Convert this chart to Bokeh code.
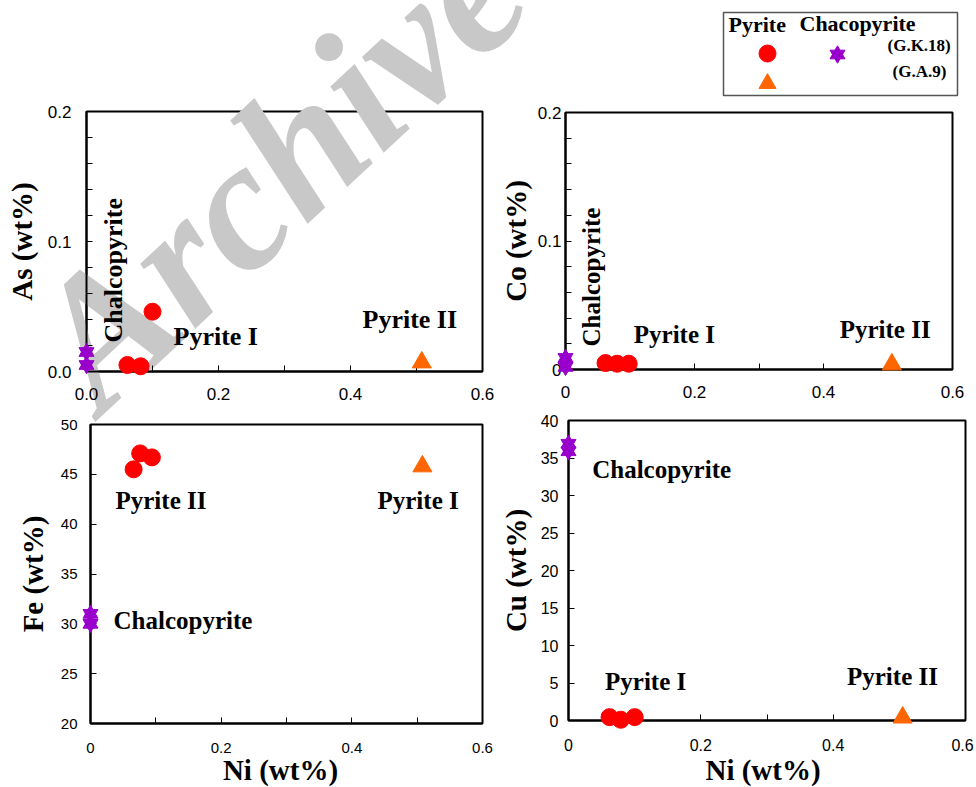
import math
from bokeh.plotting import figure
from bokeh.models import Range1d, FixedTicker
from bokeh.core.properties import value
from bokeh.layouts import row, column
from bokeh.embed import file_html
from bokeh.resources import INLINE

# ---------------- data ----------------
# G.K.18 = pyrite (red circles), G.A.9 = pyrite (orange triangle), chalcopyrite = purple stars
ni_gk18_as = [0.062, 0.082, 0.100]
as_gk18 = [0.005, 0.004, 0.046]
ni_ga9_as = [0.508]
as_ga9 = [0.007]
ni_cpy_as = [0.0, 0.0]
as_cpy = [0.015, 0.005]

ni_gk18_co = [0.062, 0.080, 0.098]
co_gk18 = [0.005, 0.0045, 0.0045]
ni_ga9_co = [0.506]
co_ga9 = [0.004]
ni_cpy_co = [0.0, 0.0]
co_cpy = [0.009, 0.002]

ni_gk18_fe = [0.066, 0.076, 0.094]
fe_gk18 = [45.5, 47.1, 46.7]
ni_ga9_fe = [0.508]
fe_ga9 = [45.8]
ni_cpy_fe = [0.0, 0.0]
fe_cpy = [31.0, 30.0]

ni_gk18_cu = [0.062, 0.079, 0.100]
cu_gk18 = [0.45, 0.1, 0.45]
ni_ga9_cu = [0.505]
cu_ga9 = [0.4]
ni_cpy_cu = [0.0, 0.0]
cu_cpy = [36.9, 35.9]

x_ticks = [0, 0.2, 0.4, 0.6]
x_minor = [0.1, 0.3, 0.5]
x_labels_as = ["0.0", "0.2", "0.4", "0.6"]
x_labels = ["0", "0.2", "0.4", "0.6"]
small_ticks = [0, 0.1, 0.2]
small_minor = [0.02, 0.04, 0.06, 0.08, 0.12, 0.14, 0.16, 0.18]
as_labels = ["0.0", "0.1", "0.2"]
co_labels = ["0", "0.1", "0.2"]
fe_ticks = [20, 25, 30, 35, 40, 45, 50]
cu_ticks = [0, 5, 10, 15, 20, 25, 30, 35, 40]

RED, ORANGE, PURPLE = "#ff0000", "#ff6600", "#9900cc"
GREY = "#c8c8c8"
SERIF = "Liberation Serif"
SANS = "Liberation Sans"

# figure geometry in page pixels (origin, size, frame edges)
G1 = dict(ox=0, oy=0, w=496, h=408, left=86, right=482, top=111, bottom=371)
GL = dict(ox=496, oy=0, w=480, h=100, left=723, right=957, top=12, bottom=95)
G2 = dict(ox=496, oy=100, w=480, h=308, left=561, right=952, top=112, bottom=369)
G3 = dict(ox=0, oy=408, w=496, h=378, left=90, right=482, top=424, bottom=723)
G4 = dict(ox=496, oy=408, w=480, h=378, left=563, right=965, top=420, bottom=720)

META = {}


def make_fig(g, xr, yr, axes=True):
    kw = {}
    if not axes:
        kw = dict(x_axis_location=None, y_axis_location=None)
    p = figure(width=g["w"], height=g["h"], x_range=Range1d(*xr), y_range=Range1d(*yr),
               output_backend="svg", toolbar_location=None, frame_align=False,
               min_border_left=g["left"] - g["ox"],
               min_border_right=g["ox"] + g["w"] - g["right"],
               min_border_top=g["top"] - g["oy"],
               min_border_bottom=g["oy"] + g["h"] - g["bottom"], **kw)
    p.outline_line_color = "black"
    p.outline_line_width = 2
    p.xgrid.visible = False
    p.ygrid.visible = False
    META[p.id] = (g, xr, yr)
    return p


def pix(p, X, Y):
    g, xr, yr = META[p.id]
    x = xr[0] + (X - g["left"]) / (g["right"] - g["left"]) * (xr[1] - xr[0])
    y = yr[0] + (g["bottom"] - Y) / (g["bottom"] - g["top"]) * (yr[1] - yr[0])
    return x, y


def style(p, xlabels, yticks, yminor, ylabels, tsize, xstand, ystand, ytitle, ytstand):
    xa, ya = p.xaxis[0], p.yaxis[0]
    xa.ticker = FixedTicker(ticks=x_ticks, minor_ticks=x_minor)
    xa.major_label_overrides = dict(zip(x_ticks, xlabels))
    ya.ticker = FixedTicker(ticks=yticks, minor_ticks=yminor)
    ya.major_label_overrides = dict(zip(yticks, ylabels))
    for ax in (xa, ya):
        ax.axis_line_color = "black"
        ax.axis_line_width = 2
        ax.major_tick_in = 6
        ax.major_tick_out = 0
        ax.minor_tick_in = 6
        ax.minor_tick_out = 0
        ax.major_tick_line_color = "black"
        ax.minor_tick_line_color = "black"
        ax.major_label_text_font = SANS
        ax.major_label_text_font_size = f"{tsize}px"
        ax.major_label_text_color = "black"
    xa.major_label_standoff = xstand
    ya.major_label_standoff = ystand
    ya.axis_label = ytitle
    ya.axis_label_text_font = SERIF
    ya.axis_label_text_font_style = "bold"
    ya.axis_label_text_font_size = "29px"
    ya.axis_label_text_color = "black"
    ya.axis_label_standoff = ytstand


def mark(p, xs, ys, marker, size, color):
    # level "annotation" keeps markers unclipped at the frame edge, as in the original
    p.scatter(xs, ys, marker=marker, size=size, fill_color=color, line_color=color,
              level="annotation")


def points(p, nx, ny, ox, oy, sx, sy):
    mark(p, nx, ny, "circle", 17, RED)
    mark(p, ox, oy, "triangle", 19, ORANGE)
    mark(p, sx, sy, "triangle", 15, PURPLE)
    mark(p, sx, sy, "inverted_triangle", 15, PURPLE)


def note(p, X, Y, text, size=25, angle=0.0, align="left", font=SERIF, style="bold",
         color="black", level="overlay"):
    # (X, Y) is the baseline point in page pixels; the text is anchored on its middle
    k = 0.3375 * size
    Xm = X - k * math.sin(angle)
    Ym = Y - k * math.cos(angle)
    x, y = pix(p, Xm, Ym)
    p.text(x=[x], y=[y], text=[text], angle=angle, text_font=value(font),
           text_font_style=style, text_font_size=value(f"{size}px"),
           text_align=align, text_baseline="middle", text_color=color, level=level)


def watermark(p):
    x, y = pix(p, 277, 166)
    p.text(x=[x], y=[y], text=["Archive"], angle=math.radians(43), text_font=value(SERIF),
           text_font_style="bold italic", text_font_size=value("185px"),
           text_align="center", text_baseline="middle", text_color=GREY, level="guide")


# ---------------- panel 1: As ----------------
p1 = make_fig(G1, (0, 0.6), (0, 0.2))
style(p1, x_labels_as, small_ticks, small_minor, as_labels, 17, 16, 15, "As (wt%)", 7)
watermark(p1)
points(p1, ni_gk18_as, as_gk18, ni_ga9_as, as_ga9, ni_cpy_as, as_cpy)
note(p1, 122, 342, "Chalcopyrite", 26, math.pi / 2)
note(p1, 173, 345, "Pyrite I", 26)
note(p1, 362, 328, "Pyrite II", 26)

# ---------------- legend ----------------
pl = make_fig(GL, (0, 1), (0, 1), axes=False)
pl.outline_line_color = "#555555"
pl.outline_line_width = 1.5
watermark(pl)
lx, ly = pix(pl, 767, 53)
mark(pl, [lx], [ly], "circle", 17, RED)
lx, ly = pix(pl, 767, 83)
mark(pl, [lx], [ly], "triangle", 17, ORANGE)
lx, ly = pix(pl, 837, 54)
mark(pl, [lx], [ly], "triangle", 15, PURPLE)
mark(pl, [lx], [ly], "inverted_triangle", 15, PURPLE)
note(pl, 728, 31, "Pyrite", 22)
note(pl, 799, 30, "Chacopyrite", 22)
note(pl, 887, 51, "(G.K.18)", 17)
note(pl, 892, 77, "(G.A.9)", 17)

# ---------------- panel 2: Co ----------------
p2 = make_fig(G2, (0, 0.6), (0, 0.2))
style(p2, x_labels, small_ticks, small_minor, co_labels, 17, 16, 4, "Co (wt%)", 3)
points(p2, ni_gk18_co, co_gk18, ni_ga9_co, co_ga9, ni_cpy_co, co_cpy)
note(p2, 596, 346, "Chalcopyrite", 25, math.pi / 2)
note(p2, 630, 342, "Pyrite I", 25)
note(p2, 838, 337, "Pyrite II", 25)

# ---------------- panel 3: Fe ----------------
p3 = make_fig(G3, (0, 0.6), (20, 50))
style(p3, x_labels, fe_ticks, [], [str(t) for t in fe_ticks], 15, 19, 13, "Fe (wt%)", 9)
watermark(p3)
points(p3, ni_gk18_fe, fe_gk18, ni_ga9_fe, fe_ga9, ni_cpy_fe, fe_cpy)
note(p3, 115, 508, "Pyrite II", 25)
note(p3, 377, 508, "Pyrite I", 25)
note(p3, 113, 628, "Chalcopyrite", 25)
note(p3, 280, 779, "Ni (wt%)", 29, align="center")

# ---------------- panel 4: Cu ----------------
p4 = make_fig(G4, (0, 0.6), (0, 40))
x_labels_cu = x_labels[:-1] + [""]
style(p4, x_labels_cu, cu_ticks, [], [str(t) for t in cu_ticks], 16, 18, 10, "Cu (wt%)", 6)
points(p4, ni_gk18_cu, cu_gk18, ni_ga9_cu, cu_ga9, ni_cpy_cu, cu_cpy)
note(p4, 587, 477, "Chalcopyrite", 25)
note(p4, 600, 689, "Pyrite I", 25)
note(p4, 845, 684, "Pyrite II", 25)
note(p4, 760, 779, "Ni (wt%)", 29, align="center")
note(p4, 962, 750, x_labels[-1], 16, align="center", font=SANS, style="normal")

layout = column(row(p1, column(pl, p2)), row(p3, p4))
open("out.html", "w").write(file_html(layout, INLINE))
